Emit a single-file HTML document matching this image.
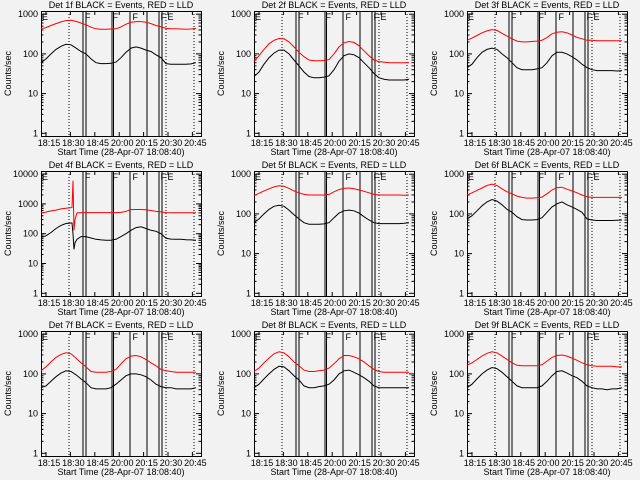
<!DOCTYPE html>
<html><head><meta charset="utf-8"><style>
html,body{margin:0;padding:0;background:#f2f2f2;}
svg{display:block;font-family:"Liberation Sans",sans-serif;}
text{font-size:9px;fill:#000;}
</style></head><body>
<svg id="chart" width="640" height="480" viewBox="0 0 640 480">
<rect width="640" height="480" fill="#f2f2f2"/>
</svg>
<script>
// ---- data ----
const times = [0,5,10,15,20,25,30,35,40,45,50,55,60,65,70,75,80,85,90,95,100,105,110,115,120,125,130,135,140,145,150,155];
const times4 = [0,5,10,15,20,25,31,32,33,34,36,40,45,50,55,60,65,70,75,80,85,90,95,100,105,110,115,120,125,130,135,140,145,150,155];
const xTickLabels = ["18:15","18:30","18:45","20:00","20:15","20:30","20:45"];
const yTickLabels3 = ["1","10","100","1000"];
const yTickLabels4 = ["1","10","100","1000","10000"];
const solidEventTimes = [42,45,71,72.5,89,106,118,121];
const dottedEventTimes = [28,125,153];
const eventLabels = ["E","F","F","F","F","E"];
const eventLabelTimes = [1,44,71.5,91.5,119.5,126.5];
const black1 = [60,75,100,130,155,175,170,140,115,100,75,60,57,57,58,62,80,110,140,150,140,125,115,95,80,57,55,55,55,55,56,60];
const red1 = [430,460,520,580,640,690,700,660,600,540,470,430,420,420,425,430,480,560,630,650,650,630,580,520,480,440,430,430,425,420,425,440];
const black2 = [27,35,55,80,105,125,125,100,70,50,35,27,25,25,26,28,40,65,90,100,95,80,60,45,32,25,23,22,22,22,22,23];
const red2 = [65,90,130,180,220,245,240,200,150,110,85,70,67,67,68,72,100,150,190,205,195,160,120,90,70,64,62,60,60,60,60,60];
const black3 = [45,55,80,110,130,140,130,100,80,60,45,40,40,40,42,45,60,90,110,110,100,85,70,55,45,40,38,38,38,38,37,38];
const red3 = [220,250,290,340,380,410,390,330,280,240,210,200,200,205,210,220,260,320,350,360,340,300,260,240,220,220,215,215,215,215,215,215];
const black4 = [75,85,110,150,190,220,230,100,30,50,65,80,80,72,65,62,60,60,65,80,100,130,160,170,150,130,120,100,70,66,65,65,63,62,60];
const red4 = [500,530,580,620,680,720,750,6000,130,300,500,510,510,510,510,510,510,510,510,520,560,650,650,650,640,600,560,540,510,505,505,505,505,505,505];
const black5 = [60,75,100,130,155,165,155,125,95,75,60,55,55,55,56,60,80,105,120,125,120,105,85,70,60,57,57,57,57,57,58,60];
const red5 = [290,330,380,430,480,510,500,440,380,340,310,300,300,300,300,310,360,410,440,450,430,400,370,340,310,300,300,300,300,300,295,300];
const black6 = [75,90,120,160,200,230,210,170,130,110,85,72,70,70,72,80,110,150,180,200,170,150,130,110,75,70,68,68,68,68,69,70];
const red6 = [300,340,390,450,520,560,520,430,360,320,280,260,250,250,255,265,320,400,460,470,420,380,340,300,270,260,260,260,260,260,260,260];
const black7 = [45,50,65,85,105,120,115,95,75,60,45,42,42,42,45,55,70,90,100,100,95,85,70,55,48,45,45,42,42,42,42,45];
const red7 = [120,150,200,260,310,340,320,250,190,150,115,110,110,110,115,130,180,240,280,290,270,230,190,160,130,120,115,110,110,110,110,110];
const black8 = [45,55,75,100,130,155,150,120,90,70,50,45,45,48,50,55,70,100,120,125,110,95,80,65,50,45,45,45,45,45,45,45];
const red8 = [115,140,190,250,320,360,340,270,200,160,125,115,115,120,125,140,180,240,290,290,270,240,200,160,130,115,110,110,110,110,110,110];
const black9 = [45,55,75,100,125,145,135,110,85,65,50,45,45,45,45,50,65,90,115,120,105,90,80,65,50,45,42,42,40,42,42,45];
const red9 = [165,190,230,280,330,360,340,280,230,190,165,160,160,160,160,170,210,260,290,300,280,250,220,190,170,160,155,155,155,155,150,150];

const panels = [
 {n:1,t:times,b:black1,r:red1,d:3},{n:2,t:times,b:black2,r:red2,d:3},{n:3,t:times,b:black3,r:red3,d:3},
 {n:4,t:times4,b:black4,r:red4,d:4},{n:5,t:times,b:black5,r:red5,d:3},{n:6,t:times,b:black6,r:red6,d:3},
 {n:7,t:times,b:black7,r:red7,d:3},{n:8,t:times,b:black8,r:red8,d:3},{n:9,t:times,b:black9,r:red9,d:3}];

const NS="http://www.w3.org/2000/svg";
const svg=document.getElementById('chart');
function mk(tag,attrs,parent){const e=document.createElementNS(NS,tag);for(const k in attrs)e.setAttribute(k,attrs[k]);(parent||svg).appendChild(e);return e;}

panels.forEach((p,i)=>{
 const col=i%3,row=Math.floor(i/3);
 const L=41+col*213,R=L+160,T=11+row*160,B=136+row*160;
 const y1=133.3+row*160;
 const dec=p.d===4?29.8:39.7;
 const xS=t=>L+t;
 const yS=v=>y1-Math.log10(v)*dec;
 const g=mk('g',{});
 
 
 const box=mk('rect',{x:L+0.5,y:T+0.5,width:160,height:125,fill:'none',stroke:'#000','stroke-width':1},g);
 
 
 const tt=mk('text',{x:L+80,y:T-3,'text-anchor':'middle'},g);
 tt.textContent='Det '+p.n+'f BLACK = Events, RED = LLD';
 
 
 const labs=p.d===4?yTickLabels4:yTickLabels3;
 labs.forEach((lab,k)=>{
  const y=yS(Math.pow(10,k));
  mk('line',{x1:L,x2:L+5,y1:y,y2:y,stroke:'#000'},g);
  mk('line',{x1:R,x2:R-5,y1:y,y2:y,stroke:'#000'},g);
  const tx=mk('text',{x:L-3,y:y+3,'text-anchor':'end','font-size':'8'},g);
  tx.textContent=lab;
  
  
  if(k<labs.length-1){for(let m=2;m<10;m++){const ym=yS(m*Math.pow(10,k));if(ym<T)break;
   mk('line',{x1:L,x2:L+2.5,y1:ym,y2:ym,stroke:'#000'},g);
   mk('line',{x1:R,x2:R-2.5,y1:ym,y2:ym,stroke:'#000'},g);}}
 });
 const yl=mk('text',{x:0,y:0,'text-anchor':'middle','font-size':'8',transform:`translate(${L-30},${(T+B)/2}) rotate(-90)`},g);
 yl.textContent='Counts/sec';
 
 
 xTickLabels.forEach((lab,k)=>{
  const x=L+5+k*24.4;
  mk('line',{x1:x,x2:x,y1:B,y2:B-4,stroke:'#000'},g);
  mk('line',{x1:x,x2:x,y1:T,y2:T+4,stroke:'#000'},g);
  const tx=mk('text',{x:x+3,y:B+10,'text-anchor':'middle','font-size':'8'},g);
  tx.textContent=lab;
  
  
 });
 const xl=mk('text',{x:L+80,y:B+19,'text-anchor':'middle'},g);
 xl.textContent='Start Time (28-Apr-07 18:08:40)';
 
 
 solidEventTimes.forEach(t=>{const l=mk('line',{x1:xS(t),x2:xS(t),y1:T,y2:B,stroke:'#000','stroke-width':1},g);
  
  });
 dottedEventTimes.forEach(t=>{const l=mk('line',{x1:xS(t),x2:xS(t),y1:T,y2:B,stroke:'#000','stroke-dasharray':'1,2'},g);
  
  });
 eventLabels.forEach((lab,k)=>{const tx=mk('text',{x:xS(eventLabelTimes[k]),y:T+9,'font-size':'12'},g);
  tx.textContent=lab;
  
  });
 const pts=arr=>arr.map((v,k)=>xS(p.t[k]).toFixed(1)+','+yS(v).toFixed(1)).join(' ');
 const rl=mk('polyline',{points:pts(p.r),fill:'none',stroke:'#ff0000','stroke-width':1},g);
 
 
 const bl=mk('polyline',{points:pts(p.b),fill:'none',stroke:'#000','stroke-width':1},g);
 
 
});
</script>
</body></html>
